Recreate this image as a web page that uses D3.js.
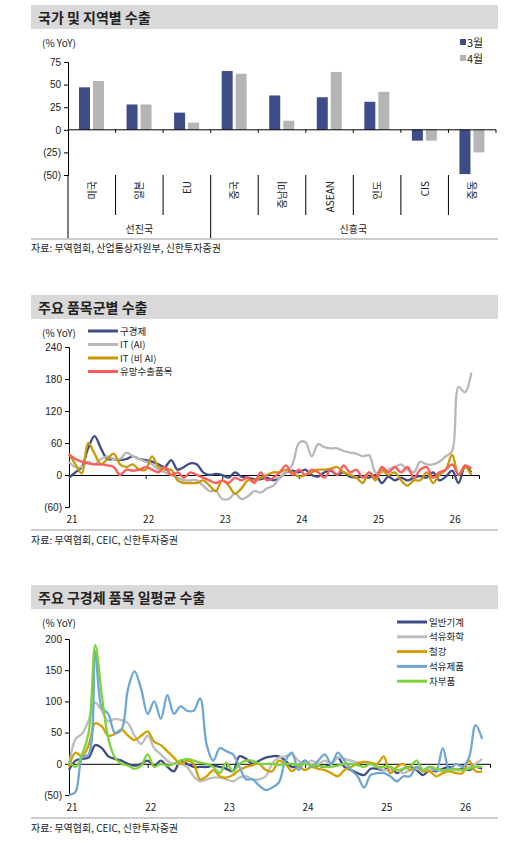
<!DOCTYPE html>
<html><head><meta charset="utf-8">
<script src="https://cdn.jsdelivr.net/npm/d3@7"></script>
<style>body{margin:0;background:#fff;font-family:"Noto Sans CJK KR","Noto Sans",sans-serif;}</style>
</head><body><div id="chart-area"></div>
<script>
// chart 1
var regions = ["미국","일본","EU","중국","중남미","ASEAN","인도","CIS","중동"];
var groups = [{name:"선진국", n:3},{name:"신흥국", n:6}];
var mar = [47,28,19,65,38,36,31,-12,-49];
var apr = [54,28,8,62,10,64,42,-12,-25];
var barTicks = [75,50,25,0,-25,-50];

// chart 2/3: monthly from Jan 2021
var yearLabels = ["21","22","23","24","25","26"];
var oldEcon = [-5,5,15,50,73,50,30,30,28,30,35,30,28,25,20,15,28,10,15,22,20,5,0,2,0,-5,5,-3,-5,-8,-8,-5,-10,-5,5,8,5,10,0,-3,5,8,0,5,-3,-5,-3,-5,0,-15,-3,-10,-5,-10,-5,-2,-5,5,-10,-3,8,-15,15,5];
var itAI = [25,15,15,25,20,30,35,30,30,42,35,30,25,20,10,5,0,-5,-10,-10,-10,-20,-30,-30,-45,-45,-35,-45,-40,-30,-33,-25,-20,-5,5,20,60,62,35,58,52,50,50,45,42,40,35,37,5,5,10,15,20,10,5,25,20,20,25,35,45,165,155,192];
var itNonAI = [40,20,3,60,40,20,30,40,20,15,20,10,10,35,15,10,10,-10,-15,-15,-15,-10,-20,-30,-10,-20,-35,-25,-10,-10,-5,0,5,5,10,5,-3,0,5,10,10,12,15,5,0,-5,-15,5,-10,10,0,5,-10,-20,-10,-10,5,-15,0,10,38,0,15,0];
var promising = [38,30,25,22,20,20,18,15,0,10,8,10,15,10,5,15,0,5,-5,5,0,-5,-10,-15,-10,-15,-5,-10,-5,-15,5,-10,-5,5,18,0,10,0,10,5,-5,10,0,18,5,10,-5,5,-5,15,5,15,5,15,-5,10,15,-5,5,10,20,0,18,12];

var machinery = [-10,5,8,10,30,25,12,8,5,0,-3,0,5,-3,5,-5,-12,5,0,-5,-5,-5,-3,-5,-8,-12,12,8,0,5,10,12,12,5,-5,-3,5,-5,-3,-5,0,10,-5,-10,-15,-18,-8,-8,-10,-5,-15,-8,-5,-10,-18,-10,-12,-8,-5,-10,-8,-10,-5,-8];
var petchem = [-5,40,48,70,98,85,68,72,70,65,45,32,45,25,15,5,0,0,-5,-20,-28,-25,-22,-22,-25,-28,-22,-20,-25,-25,-20,0,10,12,15,5,0,5,0,5,0,10,8,5,2,3,0,-5,-10,-10,-10,-15,-10,-8,-12,-10,-10,-12,-8,-10,-10,-5,0,8];
var steel = [-5,18,12,30,65,60,45,48,55,45,38,45,52,35,30,20,10,0,5,0,-25,-20,-10,-20,-22,-18,-10,-5,-2,0,-10,-12,5,0,-12,-5,-10,-5,-8,-10,-15,-20,-10,-5,0,3,2,0,12,-15,-5,0,-10,-5,-12,-12,-20,-15,-12,-15,-15,5,-12,-12];
var petprod = [-50,-45,10,15,180,90,80,50,55,120,148,120,80,100,72,110,80,92,85,85,105,30,5,25,20,15,-5,-25,-25,-35,-42,-38,-30,5,18,-10,5,-5,5,15,0,18,5,-10,-20,-38,-18,-15,-15,-20,-28,-20,-20,-5,-10,-5,-10,25,-10,0,-5,10,62,40];
var autoParts = [5,-5,15,50,190,110,40,10,0,-3,-8,-3,15,-5,0,-3,0,5,8,5,2,0,-5,-15,2,-12,0,5,5,0,0,0,-2,0,0,-2,0,-2,-3,-5,-5,-3,0,0,-2,-5,0,-5,-5,-5,-10,-8,-5,5,-10,-5,-8,-10,-10,-8,-10,-8,-5,-5];

var navy = "#3f4d86", gray = "#b5b5b5";
var fmt = d => d < 0 ? "(" + (-d) + ")" : d;

var svg = d3.select("#chart-area").append("svg").attr("width", 522).attr("height", 843);

function header(y, title) {
    svg.append("rect").attr("x", 31).attr("y", y).attr("width", 467).attr("height", 24).attr("fill", "#d9d9d9");
    svg.append("text").attr("x", 38).attr("y", y + 18).attr("font-size", 14).attr("font-weight", "bold").attr("fill", "#222").text(title);
}
function txt(x, y, s, size, anchor) {
    return svg.append("text").attr("x", x).attr("y", y).attr("font-size", size || 10).attr("fill", "#222")
        .attr("text-anchor", anchor || "start").text(s);
}

// ---- chart 1
header(5, "국가 및 지역별 수출");
txt(42, 47, "(% YoY)");
var y1 = d3.scaleLinear().domain([-50, 75]).range([175, 62]);
var x1 = d3.scaleBand().domain(regions).range([68, 496]);
svg.append("g").attr("transform", "translate(68,0)")
    .call(d3.axisLeft(y1).tickValues(barTicks).tickFormat(fmt).tickSize(4))
    .call(g => g.select(".domain").attr("stroke", "#000"))
    .call(g => g.selectAll("text").attr("font-size", 10).attr("fill", "#222"));
svg.append("line").attr("x1", 68).attr("x2", 68).attr("y1", 175).attr("y2", 238).attr("stroke", "#000");
svg.selectAll(".b3").data(regions).enter().append("rect")
    .attr("x", d => x1(d) + 11).attr("width", 11)
    .attr("y", (d, i) => y1(Math.max(0, mar[i]))).attr("height", (d, i) => Math.abs(y1(mar[i]) - y1(0)))
    .attr("fill", navy);
svg.selectAll(".b4").data(regions).enter().append("rect")
    .attr("x", d => x1(d) + 25).attr("width", 11)
    .attr("y", (d, i) => y1(Math.max(0, apr[i]))).attr("height", (d, i) => Math.abs(y1(apr[i]) - y1(0)))
    .attr("fill", gray);
svg.append("line").attr("x1", 68).attr("x2", 496).attr("y1", y1(0)).attr("y2", y1(0)).attr("stroke", "#000");
regions.forEach((r, i) => {
    var xx = x1(r) + x1.bandwidth();
    svg.append("line").attr("x1", xx).attr("x2", xx).attr("y1", y1(0)).attr("y2", y1(0) + 3).attr("stroke", "#000");
    if (i < regions.length - 1)
        svg.append("line").attr("x1", xx).attr("x2", xx).attr("y1", 175).attr("y2", i == 2 ? 238 : 215).attr("stroke", "#000");
    svg.append("text").attr("transform", "translate(" + (x1(r) + x1.bandwidth() / 2 + 4) + ",181) rotate(-90)")
        .attr("text-anchor", "end").attr("font-size", 10).attr("fill", "#222").text(r);
});
var gi = 0;
groups.forEach(g => {
    var a = x1(regions[gi]), b = x1(regions[gi + g.n - 1]) + x1.bandwidth();
    txt((a + b) / 2, 233, g.name, 10, "middle");
    gi += g.n;
});
svg.append("line").attr("x1", 31).attr("x2", 498).attr("y1", 239).attr("y2", 239).attr("stroke", "#999");
txt(31, 252, "자료: 무역협회, 산업통상자원부, 신한투자증권");
[["3월", navy, 43], ["4월", gray, 59]].forEach(l => {
    svg.append("rect").attr("x", 460).attr("y", l[2] - 4).attr("width", 6).attr("height", 6).attr("fill", l[1]);
    txt(467, l[2] + 4, l[0], 11);
});

// ---- line chart helper
function lineChart(o) {
    header(o.top, o.title);
    txt(42, o.top + 42, "(% YoY)");
    var y = d3.scaleLinear().domain(o.domain).range([o.bottom, o.yTop]);
    var x = d3.scaleLinear().domain([0, 12 * 5.35]).range([69, o.xEnd]);
    svg.append("g").attr("transform", "translate(69,0)")
        .call(d3.axisLeft(y).tickValues(o.ticks).tickFormat(fmt).tickSize(4))
        .call(g => g.select(".domain").attr("stroke", "#000"))
        .call(g => g.selectAll("text").attr("font-size", 10).attr("fill", "#222"));
    svg.append("g").attr("transform", "translate(0," + y(0) + ")")
        .call(d3.axisBottom(x).tickValues(d3.range(0, 66, 12)).tickSize(4).tickFormat(""))
        .call(g => g.select(".domain").attr("stroke", "#000"));
    yearLabels.forEach((l, i) => txt(x(i * 12) + 3, o.bottom + 16, l, 10, "middle"));
    var line = d3.line().x((d, i) => x(i)).y(d => y(d)).curve(d3.curveCatmullRom);
    o.series.forEach(s => {
        svg.append("path").datum(s.values).attr("d", line).attr("fill", "none")
            .attr("stroke", s.color).attr("stroke-width", 2.3);
    });
    o.series.forEach((s, i) => {
        var ly = o.legY + i * o.legStep;
        svg.append("line").attr("x1", o.legX).attr("x2", o.legX + 30).attr("y1", ly).attr("y2", ly)
            .attr("stroke", s.color).attr("stroke-width", 3);
        txt(o.legX + 32, ly + 3.5, s.name, 9.5);
    });
    svg.append("line").attr("x1", 31).attr("x2", 498).attr("y1", o.bottom + 23).attr("y2", o.bottom + 23).attr("stroke", "#999");
    txt(31, o.bottom + 37, "자료: 무역협회, CEIC, 신한투자증권");
}

lineChart({
    top: 295, title: "주요 품목군별 수출", domain: [-60, 240], ticks: [240, 180, 120, 60, 0, -60],
    yTop: 347, bottom: 507, xEnd: 479, legX: 88, legY: 331, legStep: 13.5,
    series: [
        {name: "구경제", color: navy, values: oldEcon},
        {name: "IT (AI)", color: "#b8b8b8", values: itAI},
        {name: "IT (비 AI)", color: "#c99a06", values: itNonAI},
        {name: "유망수출품목", color: "#ff5b5b", values: promising}
    ]
});
lineChart({
    top: 585, title: "주요 구경제 품목 일평균 수출", domain: [-50, 200], ticks: [200, 150, 100, 50, 0, -50],
    yTop: 639, bottom: 795, xEnd: 490, legX: 397, legY: 622, legStep: 14.8,
    series: [
        {name: "일반기계", color: navy, values: machinery},
        {name: "석유화학", color: "#bdbdbd", values: petchem},
        {name: "철강", color: "#d4a000", values: steel},
        {name: "석유제품", color: "#6fa8d6", values: petprod},
        {name: "차부품", color: "#7ed23a", values: autoParts}
    ]
});
</script>
</body></html>
